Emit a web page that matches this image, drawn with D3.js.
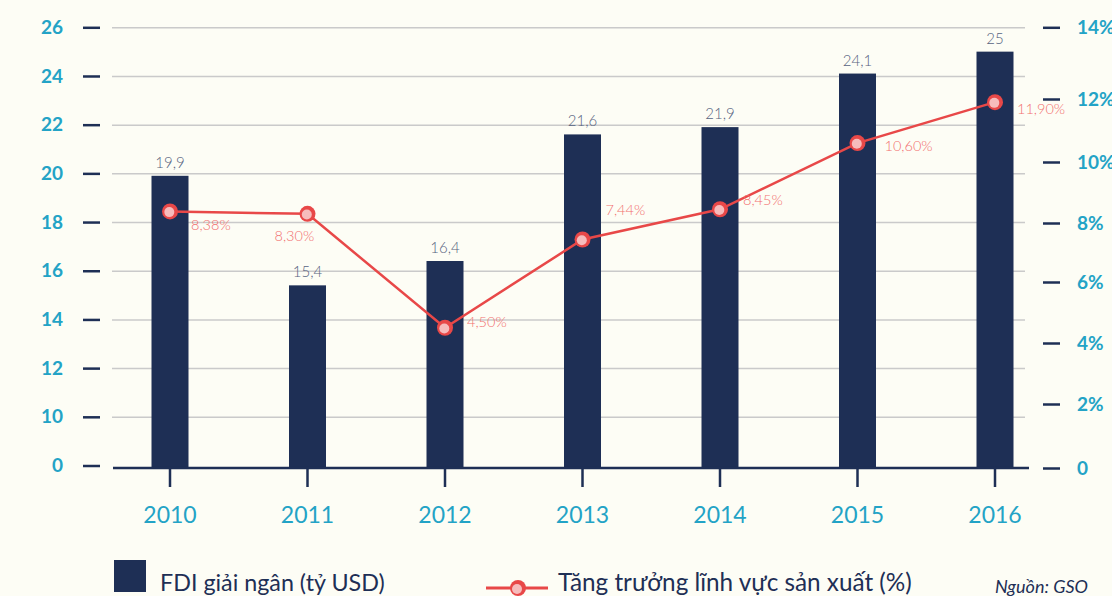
<!DOCTYPE html>
<html>
<head>
<meta charset="utf-8">
<script src="https://cdn.jsdelivr.net/npm/d3@7"></script>
<style>
  html, body { margin: 0; padding: 0; background: #fdfdf5; }
  svg { display: block; font-family: Lato, "Open Sans", sans-serif; }
</style>
</head>
<body>
<div id="chart"></div>
<script>
// data
const years = ['2010', '2011', '2012', '2013', '2014', '2015', '2016'];
const fdi = [19.9, 15.4, 16.4, 21.6, 21.9, 24.1, 25];
const growth = [8.38, 8.30, 4.50, 7.44, 8.45, 10.60, 11.90];
const leftTicks = [8, 10, 12, 14, 16, 18, 20, 22, 24, 26];
const rightTicks = [0, 2, 4, 6, 8, 10, 12, 14];

const width = 1112, height = 596;
const navy = '#1e2f55', teal = '#23a3c6', red = '#e84848', pink = '#f27070';

// label offsets around the points (dx, dy)
const labelPos = [[21, 15], [-33, 24], [22, -4], [23, -28], [23, -8], [27, 4], [22, 8]];

const svg = d3.select('#chart').append('svg')
  .attr('width', width)
  .attr('height', height);

svg.append('rect')
  .attr('width', width).attr('height', height)
  .attr('fill', '#fdfdf5');

const x = d3.scaleBand()
  .domain(years)
  .range([101.25, 1063.75]);

// left axis starts at 8 but shows "0" (broken axis)
const yLeft = d3.scaleLinear()
  .domain([8, 26])
  .range([465.5, 27.3]);

const yRight = d3.scaleLinear()
  .domain(rightTicks)
  .range([468, 404, 343, 282, 223, 162, 99, 27.3]);

// grid lines
svg.append('g')
  .attr('transform', 'translate(112,0)')
  .call(d3.axisLeft(yLeft).tickValues(leftTicks.slice(1)).tickSize(-913).tickFormat(''))
  .call(g => g.select('.domain').remove())
  .call(g => g.selectAll('line').attr('stroke', '#cacaca').attr('stroke-width', 1.5));

// left axis
svg.append('g')
  .attr('transform', 'translate(100,0)')
  .call(d3.axisLeft(yLeft).tickValues(leftTicks).tickSize(17).tickPadding(20)
    .tickFormat(d => d === 8 ? '0' : d))
  .call(g => g.select('.domain').remove())
  .call(g => g.selectAll('line').attr('stroke', navy).attr('stroke-width', 2.5))
  .call(g => g.selectAll('text')
    .attr('fill', teal).attr('font-size', 19).attr('font-weight', 'bold')
    .attr('font-family', 'Lato'));

// right axis
svg.append('g')
  .attr('transform', 'translate(1043,0)')
  .call(d3.axisRight(yRight).tickValues(rightTicks).tickSize(17).tickPadding(17)
    .tickFormat(d => d === 0 ? '0' : d + '%'))
  .call(g => g.select('.domain').remove())
  .call(g => g.selectAll('line').attr('stroke', navy).attr('stroke-width', 2.5))
  .call(g => g.selectAll('text')
    .attr('fill', teal).attr('font-size', 19).attr('font-weight', 'bold')
    .attr('font-family', 'Lato'));

// bars
const barW = 37;
svg.append('g')
  .selectAll('rect')
  .data(fdi)
  .join('rect')
  .attr('x', (d, i) => x(years[i]) + x.bandwidth() / 2 - barW / 2)
  .attr('y', d => yLeft(d))
  .attr('width', barW)
  .attr('height', d => yLeft(8) + 2 - yLeft(d))
  .attr('fill', navy);

svg.append('g')
  .selectAll('text')
  .data(fdi)
  .join('text')
  .attr('x', (d, i) => x(years[i]) + x.bandwidth() / 2)
  .attr('y', d => yLeft(d) - 8)
  .attr('text-anchor', 'middle')
  .attr('font-size', 15)
  .attr('font-weight', 300)
  .attr('fill', '#56637f')
  .text(d => String(d).replace('.', ','));

// x axis
svg.append('line')
  .attr('x1', 113).attr('x2', 1029)
  .attr('y1', 468).attr('y2', 468)
  .attr('stroke', navy).attr('stroke-width', 2.5);

svg.append('g')
  .attr('transform', 'translate(0,468)')
  .call(d3.axisBottom(x).tickSize(19).tickPadding(20))
  .call(g => g.select('.domain').remove())
  .call(g => g.selectAll('line').attr('stroke', navy).attr('stroke-width', 2.5))
  .call(g => g.selectAll('text')
    .attr('fill', teal).attr('font-size', 23).attr('font-family', 'Lato'));

// line series
const cx = (d, i) => x(years[i]) + x.bandwidth() / 2;
const line = d3.line()
  .x(cx)
  .y(d => yRight(d));

svg.append('path')
  .datum(growth)
  .attr('d', line)
  .attr('fill', 'none')
  .attr('stroke', red)
  .attr('stroke-width', 2.5);

const pts = svg.append('g')
  .selectAll('g')
  .data(growth)
  .join('g')
  .attr('transform', (d, i) => `translate(${cx(d, i)},${yRight(d)})`);

pts.append('circle').attr('r', 8).attr('fill', red);
pts.append('circle').attr('r', 5).attr('cx', -0.7).attr('cy', 0.7).attr('fill', '#f6bcbc');

pts.append('text')
  .attr('x', (d, i) => labelPos[i][0])
  .attr('y', (d, i) => labelPos[i][1])
  .attr('text-anchor', 'start')
  .attr('dominant-baseline', 'middle')
  .attr('font-size', 14.5)
  .attr('font-weight', 300)
  .attr('fill', pink)
  .text(d => d.toFixed(2).replace('.', ',') + '%');

// legend
const legend = svg.append('g');
legend.append('rect')
  .attr('x', 114).attr('y', 560).attr('width', 32).attr('height', 32)
  .attr('fill', navy);
legend.append('text')
  .attr('x', 160).attr('y', 591)
  .attr('font-size', 23.3).attr('fill', navy)
  .text('FDI giải ngân (tỷ USD)');

legend.append('line')
  .attr('x1', 486).attr('x2', 548).attr('y1', 588).attr('y2', 588)
  .attr('stroke', red).attr('stroke-width', 3);
legend.append('circle').attr('cx', 518).attr('cy', 588).attr('r', 8).attr('fill', red);
legend.append('circle').attr('cx', 517).attr('cy', 589).attr('r', 5).attr('fill', '#f6bcbc');
legend.append('text')
  .attr('x', 558).attr('y', 591)
  .attr('font-size', 24.3).attr('fill', navy)
  .text('Tăng trưởng lĩnh vực sản xuất (%)');

legend.append('text')
  .attr('x', 1088).attr('y', 593)
  .attr('text-anchor', 'end')
  .attr('font-size', 18).attr('font-style', 'italic').attr('fill', navy)
  .text('Nguồn: GSO');
</script>
</body>
</html>
